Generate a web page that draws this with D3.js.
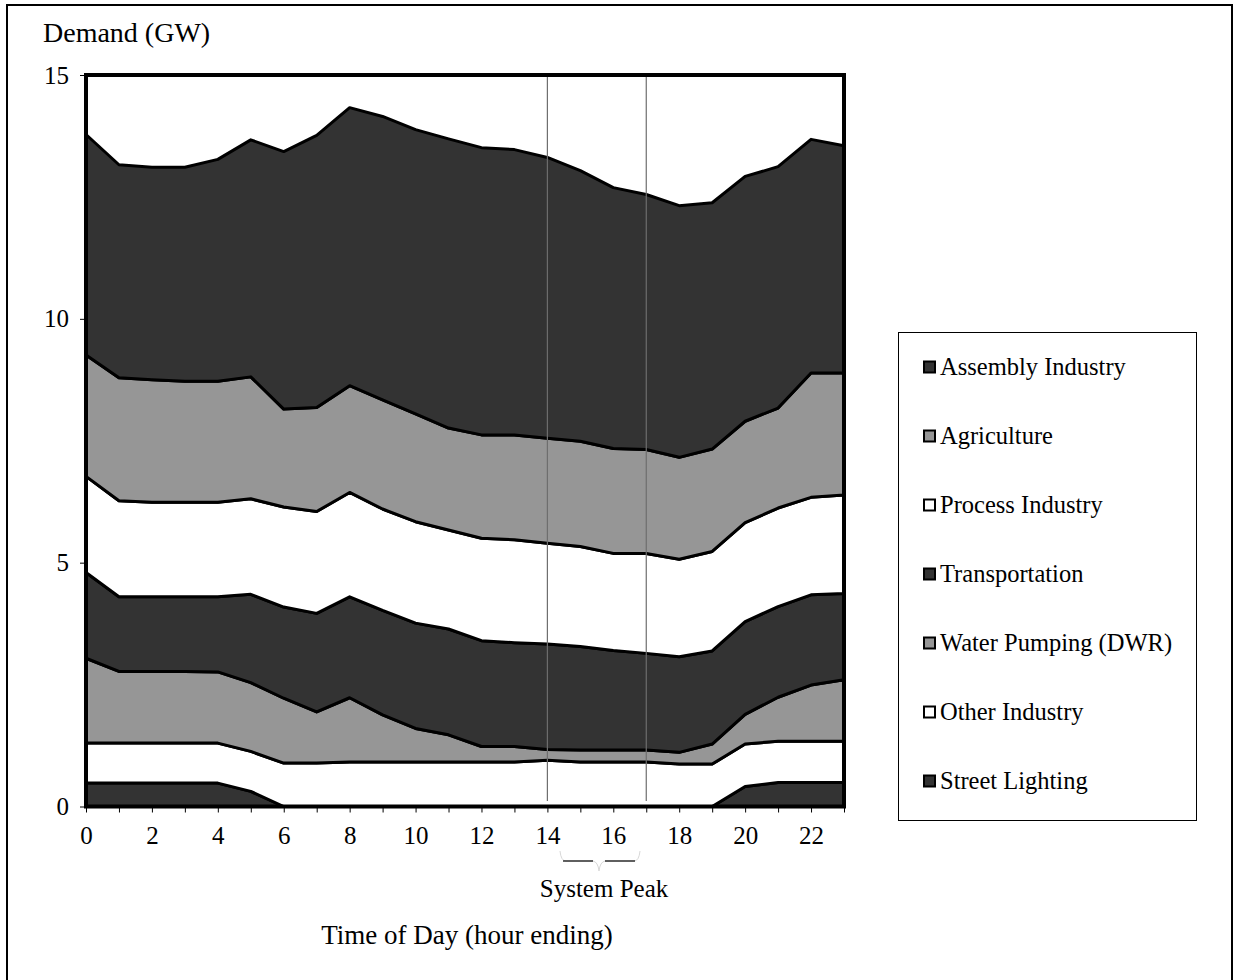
<!DOCTYPE html>
<html>
<head>
<meta charset="utf-8">
<script src="https://cdn.jsdelivr.net/npm/d3@7"></script>
<style>
  html, body { margin: 0; padding: 0; background: #fff; }
  svg { display: block; font-family: "Liberation Serif", "Times New Roman", serif; }
</style>
</head>
<body>
<svg id="chart" width="1235" height="980"></svg>
<script>
// Hourly demand by sector (GW), hour ending 0..23
const hours = d3.range(0, 24);

const streetLighting = [0.48,0.48,0.48,0.48,0.48,0.31,0,0,0,0,0,0,0,0,0,0,0,0,0,0,0.41,0.49,0.49,0.49];
const otherIndustry  = [0.82,0.82,0.82,0.82,0.82,0.82,0.89,0.89,0.91,0.91,0.91,0.91,0.91,0.91,0.95,0.91,0.91,0.91,0.87,0.87,0.87,0.85,0.85,0.85];
const waterPumping   = [1.74,1.47,1.47,1.47,1.46,1.41,1.33,1.05,1.32,0.97,0.69,0.56,0.32,0.32,0.22,0.25,0.25,0.25,0.24,0.41,0.61,0.90,1.15,1.26];
const transportation = [1.76,1.53,1.53,1.53,1.54,1.81,1.87,2.02,2.07,2.14,2.16,2.17,2.17,2.13,2.16,2.12,2.04,1.98,1.96,1.91,1.90,1.86,1.85,1.77];
const processIndustry= [1.97,1.97,1.94,1.94,1.94,1.96,2.05,2.09,2.14,2.08,2.08,2.03,2.10,2.11,2.07,2.05,1.99,2.05,2.00,2.04,2.03,2.02,2.00,2.02];
const agriculture    = [2.49,2.52,2.51,2.48,2.48,2.50,2.01,2.13,2.19,2.24,2.21,2.09,2.12,2.15,2.15,2.16,2.15,2.13,2.09,2.10,2.08,2.05,2.55,2.50];
const assemblyIndustry=[4.52,4.37,4.36,4.39,4.55,4.86,5.28,5.58,5.70,5.81,5.83,5.93,5.89,5.85,5.76,5.55,5.35,5.23,5.16,5.05,5.02,4.95,4.79,4.66];

// Stack order, bottom to top
const seriesNames = ["Street Lighting","Other Industry","Water Pumping (DWR)","Transportation","Process Industry","Agriculture","Assembly Industry"];
const seriesValues = [streetLighting, otherIndustry, waterPumping, transportation, processIndustry, agriculture, assemblyIndustry];
const seriesFills = ["#333333","#ffffff","#969696","#333333","#ffffff","#969696","#333333"];

// Legend lists the top layer first
const legendOrder = ["Assembly Industry","Agriculture","Process Industry","Transportation","Water Pumping (DWR)","Other Industry","Street Lighting"];

const yTicks = [0, 5, 10, 15];
const xLabelTicks = d3.range(0, 24, 2);
const peakHours = [14, 17];

const svg = d3.select("#chart");

// outer frame
svg.append("rect")
  .attr("x", 7).attr("y", 5).attr("width", 1225).attr("height", 990)
  .attr("fill", "none").attr("stroke", "#000").attr("stroke-width", 2);

const x = d3.scaleLinear().domain([0, 23]).range([86, 844]);
const y = d3.scaleLinear().domain([0, 15]).range([806.5, 75]);

const table = hours.map((h, i) => {
  const row = { hour: h };
  seriesNames.forEach((n, k) => { row[n] = seriesValues[k][i]; });
  return row;
});

const stacked = d3.stack().keys(seriesNames)(table);

const area = d3.area()
  .x(d => x(d.data.hour))
  .y0(d => y(d[0]))
  .y1(d => y(d[1]));

const plot = svg.append("g");

plot.selectAll("path.layer")
  .data(stacked)
  .join("path")
  .attr("class", "layer")
  .attr("d", area)
  .attr("fill", (d, i) => seriesFills[i])
  .attr("stroke", "#000")
  .attr("stroke-width", 3)
  .attr("stroke-linejoin", "round");

// system peak markers
plot.selectAll("line.peak")
  .data(peakHours)
  .join("line")
  .attr("class", "peak")
  .attr("x1", d => x(d)).attr("x2", d => x(d))
  .attr("y1", y(15)).attr("y2", 801)
  .attr("stroke", "#6e6e6e").attr("stroke-width", 1.2);

// y axis
const yAxis = d3.axisLeft(y).tickValues(yTicks).tickSize(6).tickPadding(11).tickFormat(d3.format("d"));
const gy = svg.append("g").attr("transform", `translate(${x(0)},0)`).call(yAxis);
gy.select(".domain").remove();
gy.selectAll("text").attr("font-size", 25).attr("font-family", "Liberation Serif").attr("fill", "#000");
gy.selectAll("line").attr("stroke", "#000");

// x axis: tick marks every hour, labels every two hours
const xAxis = d3.axisBottom(x).tickValues(hours).tickSize(6).tickPadding(14)
  .tickFormat(d => xLabelTicks.includes(d) ? d : "");
const gx = svg.append("g").attr("transform", `translate(0,${y(0)})`).call(xAxis);
gx.select(".domain").remove();
gx.selectAll("text").attr("font-size", 25).attr("font-family", "Liberation Serif").attr("fill", "#000");
gx.selectAll("line").attr("stroke", "#000");

// plot area border
svg.append("rect")
  .attr("x", x(0)).attr("y", y(15))
  .attr("width", x(23) - x(0)).attr("height", y(0) - y(15))
  .attr("fill", "none").attr("stroke", "#000").attr("stroke-width", 4);

// titles
svg.append("text").attr("x", 43).attr("y", 42)
  .attr("font-size", 28).text("Demand (GW)");
svg.append("text").attr("x", 467).attr("y", 944).attr("text-anchor", "middle")
  .attr("font-size", 27).text("Time of Day (hour ending)");

// system peak brace
const brace = svg.append("g");
brace.append("path")
  .attr("d", "M560,851 Q561,861 566,861 L593,861 Q598,862 599,871 Q600,862 605,861 L634,861 Q639,861 640,851")
  .attr("fill", "none").attr("stroke", "#d8d8d8").attr("stroke-width", 1);
brace.append("line").attr("x1", 563).attr("x2", 593).attr("y1", 861).attr("y2", 861)
  .attr("stroke", "#000").attr("stroke-width", 1.2);
brace.append("line").attr("x1", 605).attr("x2", 635).attr("y1", 861).attr("y2", 861)
  .attr("stroke", "#000").attr("stroke-width", 1.2);
svg.append("text").attr("x", 604).attr("y", 897).attr("text-anchor", "middle")
  .attr("font-size", 25).text("System Peak");

// legend
const legend = svg.append("g");
legend.append("rect")
  .attr("x", 898.5).attr("y", 332.5).attr("width", 298).attr("height", 488)
  .attr("fill", "#fff").attr("stroke", "#000").attr("stroke-width", 1);

const legendItems = legend.selectAll("g.item")
  .data(legendOrder)
  .join("g")
  .attr("class", "item")
  .attr("transform", (d, i) => `translate(923,${366.5 + i * 69})`);

legendItems.append("rect")
  .attr("x", 1).attr("y", -5).attr("width", 11).attr("height", 11)
  .attr("fill", d => seriesFills[seriesNames.indexOf(d)])
  .attr("stroke", "#000").attr("stroke-width", 2);

legendItems.append("text")
  .attr("x", 17).attr("y", 8.5)
  .attr("font-size", 24.5)
  .text(d => d);
</script>
</body>
</html>
